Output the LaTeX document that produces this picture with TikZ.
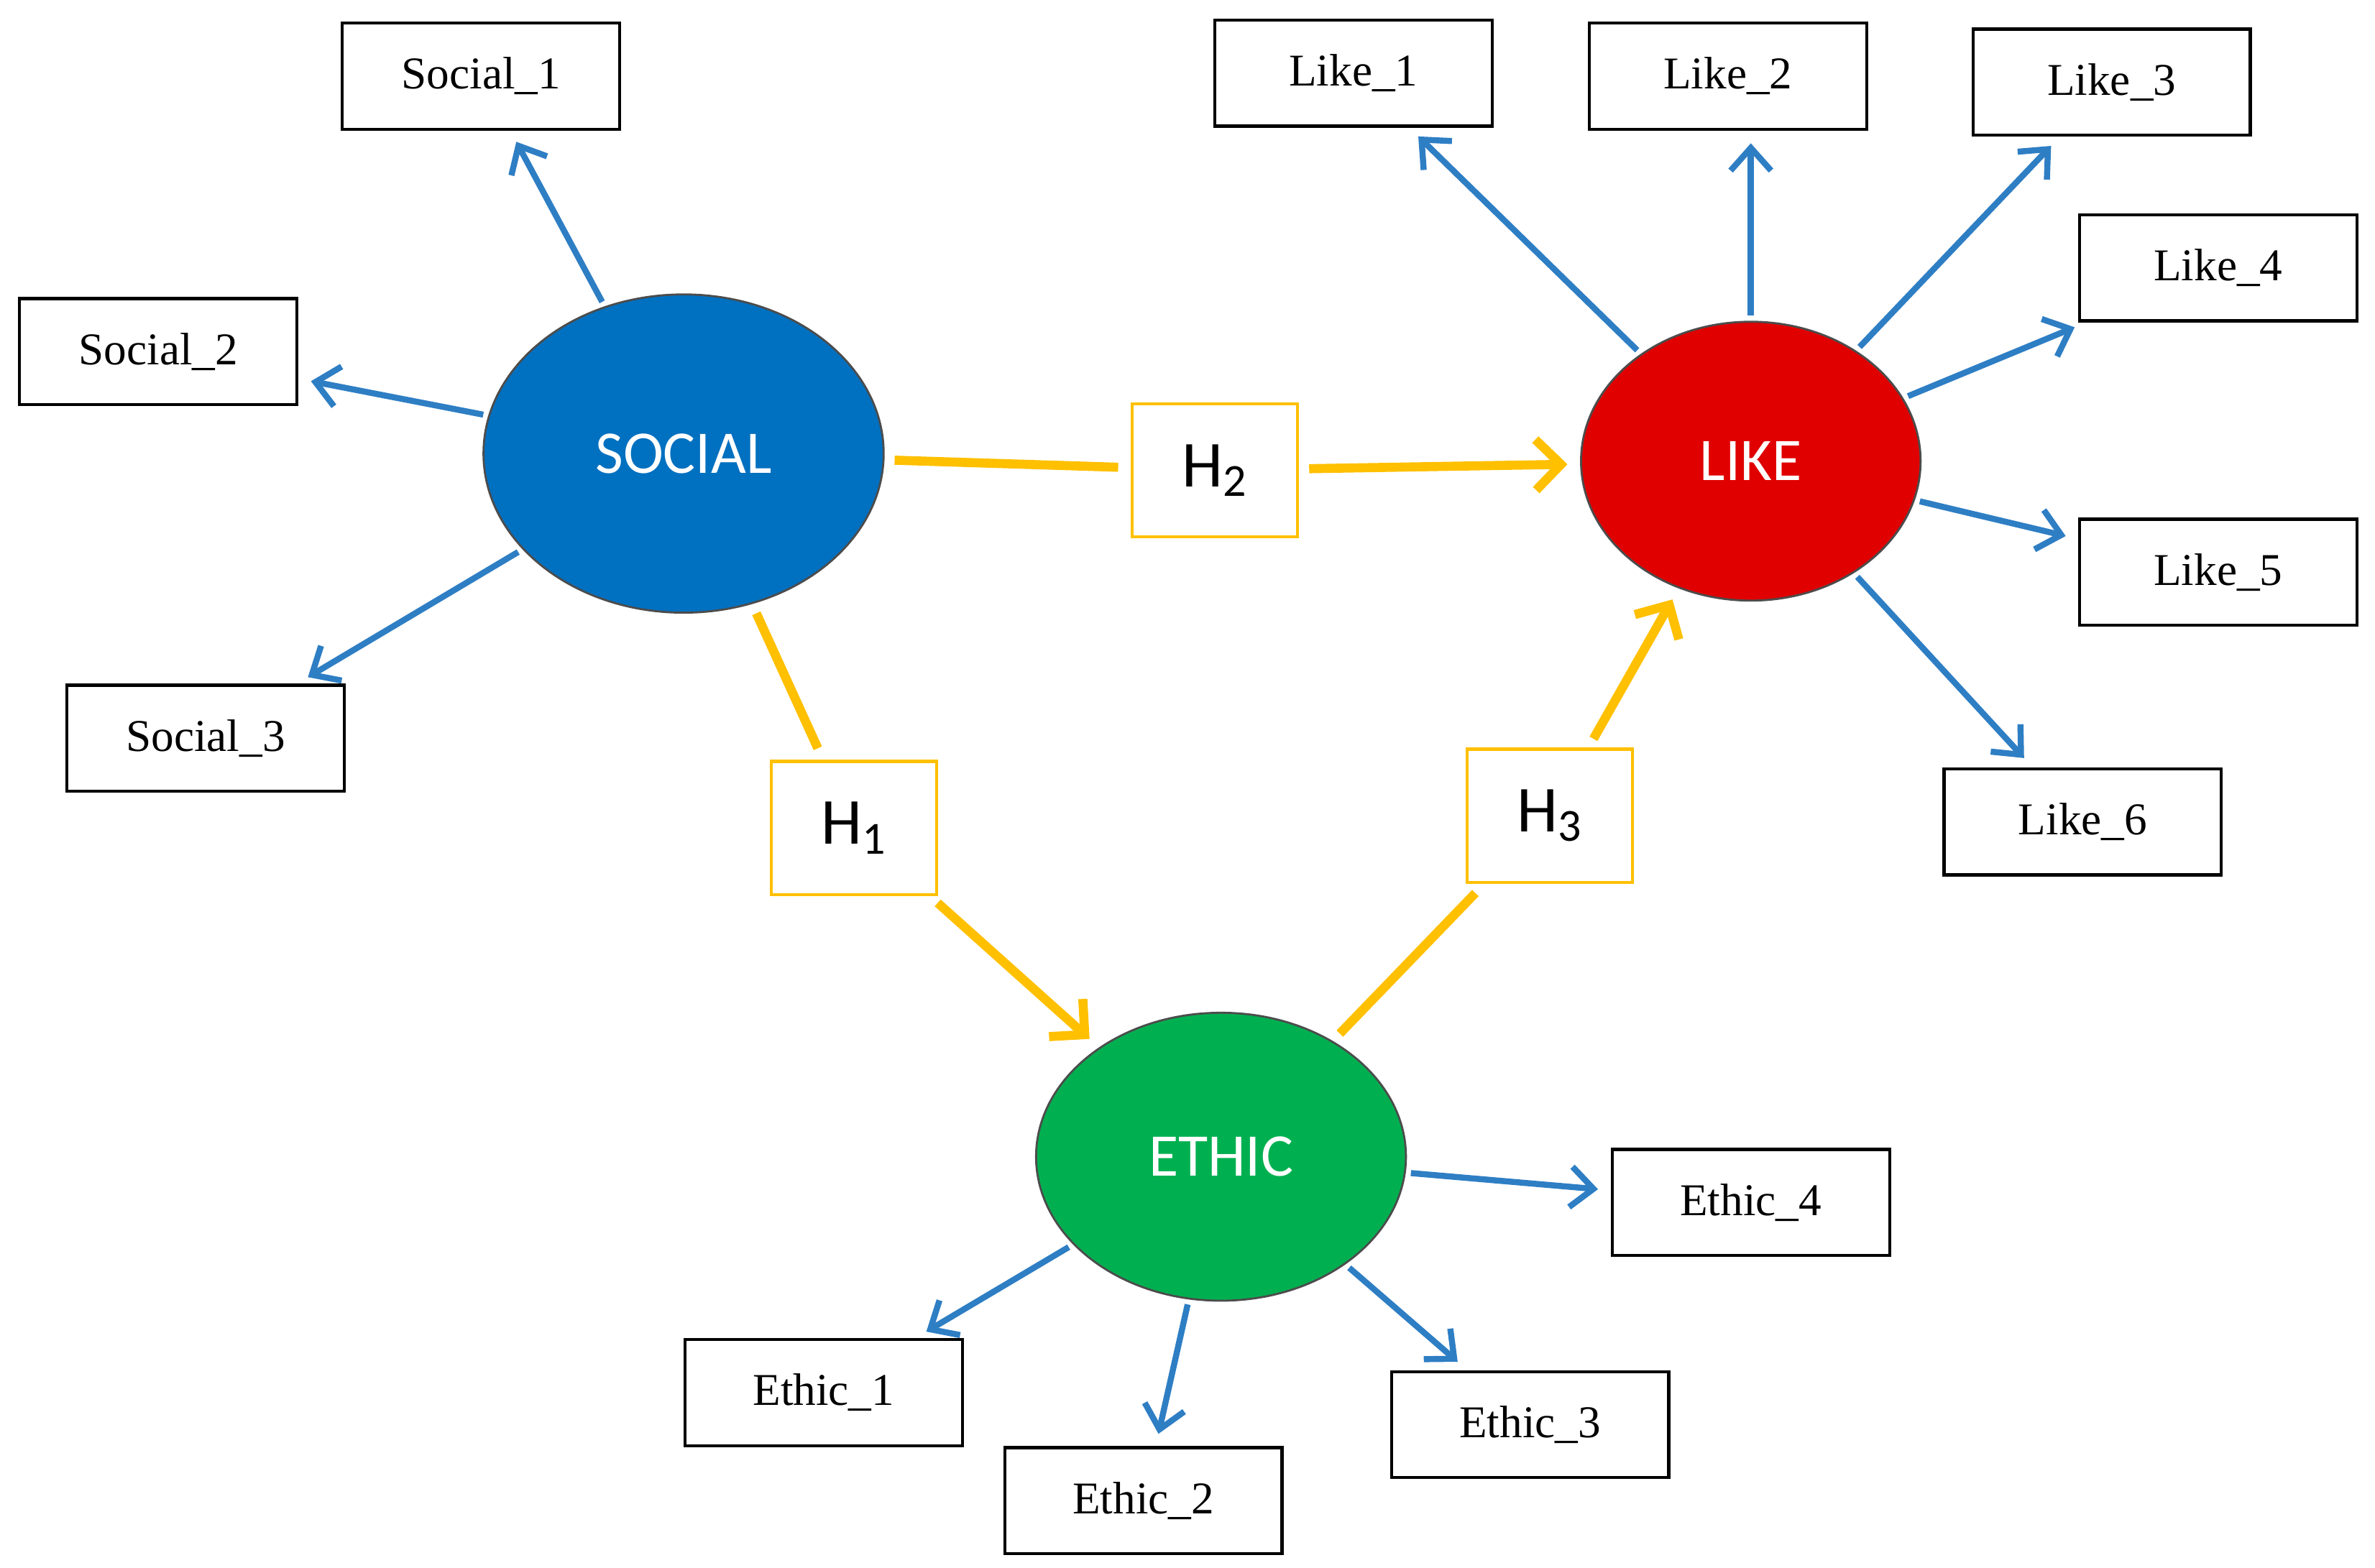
\documentclass[tikz,border=0pt]{standalone}
\usepackage{fontspec}
\setmainfont{Liberation Serif}
\newfontfamily\carl{Carlito}
\usetikzlibrary{arrows.meta,shapes.geometric}
\definecolor{lb}{HTML}{2E7EC4}
\definecolor{yl}{HTML}{FFC000}
\begin{document}
\begin{tikzpicture}[x=0.02118cm,y=-0.02118cm,
 box/.style={draw,line width=1.2pt,minimum width=183*0.6pt,minimum height=70*0.6pt,inner sep=0pt,font=\fontsize{18}{20}\selectfont},
 hb/.style={draw=yl,fill=white,line width=1.2pt,minimum width=109*0.6pt,minimum height=88*0.6pt,inner sep=0pt,font=\carl\fontsize{26}{28}\selectfont},
 ell/.style={ellipse,draw=black!70,line width=0.8pt,inner sep=0pt,text=white,font=\carl\fontsize{24}{26}\selectfont},
 ba/.style={lb,line width=2.4pt,-{Straight Barb[length=9pt,width=16pt,line width=2.4pt]},shorten >=5pt,shorten <=2pt},
 ya/.style={yl,line width=3.6pt,shorten >=5pt,shorten <=4pt},
 yaa/.style={ya,-{Straight Barb[length=10pt,width=20pt,line width=3.6pt]}}]
\useasboundingbox (0,0) rectangle (1560,1030);
\node[ell,fill={rgb,255:red,0;green,112;blue,192},minimum width=264*0.6pt,minimum height=210*0.6pt] (social) at (449,298) {SOCIAL};
\node[ell,fill={rgb,255:red,224;green,0;blue,0},minimum width=224*0.6pt,minimum height=184*0.6pt] (like) at (1150,303) {LIKE};
\node[ell,fill={rgb,255:red,0;green,176;blue,80},minimum width=244*0.6pt,minimum height=190*0.6pt] (ethic) at (802,760) {ETHIC};
\node[box] (s1) at (316,50) {Social\_1};
\node[box] (s2) at (104,231) {Social\_2};
\node[box] (s3) at (135,485) {Social\_3};
\node[box] (l1) at (889,48) {Like\_1};
\node[box] (l2) at (1135,50) {Like\_2};
\node[box] (l3) at (1387,54) {Like\_3};
\node[box] (l4) at (1457,176) {Like\_4};
\node[box] (l5) at (1457,376) {Like\_5};
\node[box] (l6) at (1368,540) {Like\_6};
\node[box] (e1) at (541,915) {Ethic\_1};
\node[box] (e2) at (751,986) {Ethic\_2};
\node[box] (e3) at (1005,936) {Ethic\_3};
\node[box] (e4) at (1150,790) {Ethic\_4};
\node[hb] (h2) at (798,309) {H\textsubscript{2}};
\node[hb] (h1) at (561,544) {H\textsubscript{1}};
\node[hb] (h3) at (1018,536) {H\textsubscript{3}};
\draw[ba] (social) -- (s1);
\draw[ba] (social) -- (s2);
\draw[ba] (social) -- (s3);
\draw[ba] (like) -- (l1);
\draw[ba] (like.north) -- (like.north |- l2.south);
\draw[ba] (like) -- (l3);
\draw[ba] (like) -- (l4);
\draw[ba] (like) -- (l5);
\draw[ba] (like) -- (l6);
\draw[ba] (ethic) -- (e1);
\draw[ba] (ethic) -- (e2);
\draw[ba] (ethic) -- (e3);
\draw[ba] (ethic) -- (e4);
\draw[ya] (social) -- (h2);
\draw[yaa] (h2) -- (like);
\draw[ya] (social) -- (h1);
\draw[yaa] (h1) -- (ethic);
\draw[ya] (ethic) -- (h3);
\draw[yaa] (h3) -- (like);
\end{tikzpicture}
\end{document}
